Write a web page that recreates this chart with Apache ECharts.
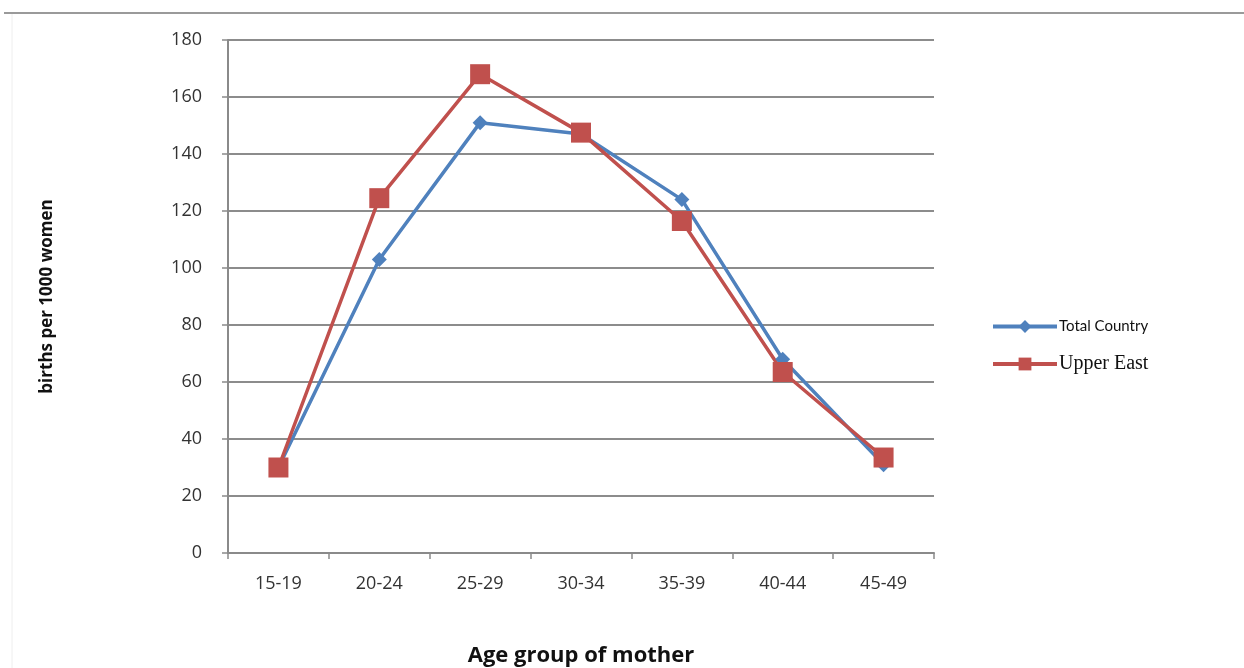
<!DOCTYPE html>
<html>
<head>
<meta charset="utf-8">
<script src="https://cdn.jsdelivr.net/npm/echarts@6/dist/echarts.min.js"></script>
<style>
  html, body { margin: 0; padding: 0; background: #fff; }
  #chart { width: 1244px; height: 668px; }
</style>
</head>
<body>
<div id="chart"></div>
<script>
const ageGroups = ['15-19', '20-24', '25-29', '30-34', '35-39', '40-44', '45-49'];
const totalCountry = [30, 103, 151, 147, 124, 68, 31];
const upperEast = [30, 124.5, 168, 147.5, 116.5, 63.5, 33.5];

const chart = echarts.init(document.getElementById('chart'));

const option = {
  animation: false,
  grid: { left: 228, right: 310, top: 40, bottom: 115, containLabel: false, outerBoundsMode: 'none' },
  graphic: [
    { type: 'line', shape: { x1: 4, y1: 13, x2: 1244, y2: 13 }, style: { stroke: '#9a9a9a', lineWidth: 2 } },
    { type: 'line', shape: { x1: 12, y1: 14, x2: 12, y2: 668 }, style: { stroke: '#eeeeee', lineWidth: 1 } }
  ],
  legend: {
    orient: 'vertical',
    left: 986,
    top: 314,
    itemWidth: 64,
    itemHeight: 16,
    itemGap: 20,
    lineStyle: { width: 4 },
    data: [
      { name: 'Total Country', textStyle: { fontFamily: 'Lato', fontSize: 15, color: '#111' } },
      { name: 'Upper East', textStyle: { fontFamily: 'Liberation Serif', fontSize: 20, color: '#111' } }
    ],
    textStyle: { padding: [0, 0, 0, -3] }
  },
  xAxis: {
    type: 'category',
    data: ageGroups,
    name: 'Age group of mother',
    nameLocation: 'middle',
    nameGap: 92,
    nameTextStyle: { fontFamily: 'Open Sans', fontWeight: 'bold', fontSize: 22, color: '#111' },
    axisLine: { lineStyle: { color: '#8a8a8a', width: 2 } },
    axisTick: { show: true, alignWithLabel: false, length: 6, lineStyle: { color: '#8a8a8a', width: 1.5 } },
    axisLabel: { fontFamily: 'Open Sans', fontSize: 18, color: '#333', margin: 22 }
  },
  yAxis: {
    type: 'value',
    min: 0,
    max: 180,
    interval: 20,
    name: 'births per 1000 women',
    nameLocation: 'middle',
    nameGap: 172,
    nameTextStyle: { fontFamily: 'Open Sans', fontWeight: 'bold', fontSize: 17, color: '#111' },
    axisLine: { show: true, lineStyle: { color: '#8a8a8a', width: 2 } },
    axisTick: { show: true, length: 6, lineStyle: { color: '#8a8a8a', width: 1.5 } },
    axisLabel: { fontFamily: 'Open Sans', fontSize: 18, color: '#333', margin: 26 },
    splitLine: { lineStyle: { color: '#8c8c8c', width: 2 } }
  },
  series: [
    {
      name: 'Total Country',
      type: 'line',
      data: totalCountry,
      symbol: 'diamond',
      symbolSize: 15,
      lineStyle: { color: '#4F81BD', width: 3.5 },
      itemStyle: { color: '#4F81BD' }
    },
    {
      name: 'Upper East',
      type: 'line',
      data: upperEast,
      symbol: 'rect',
      symbolSize: 20,
      lineStyle: { color: '#C0504D', width: 3.5 },
      itemStyle: { color: '#C0504D' }
    }
  ]
};

chart.setOption(option);
</script>
</body>
</html>
